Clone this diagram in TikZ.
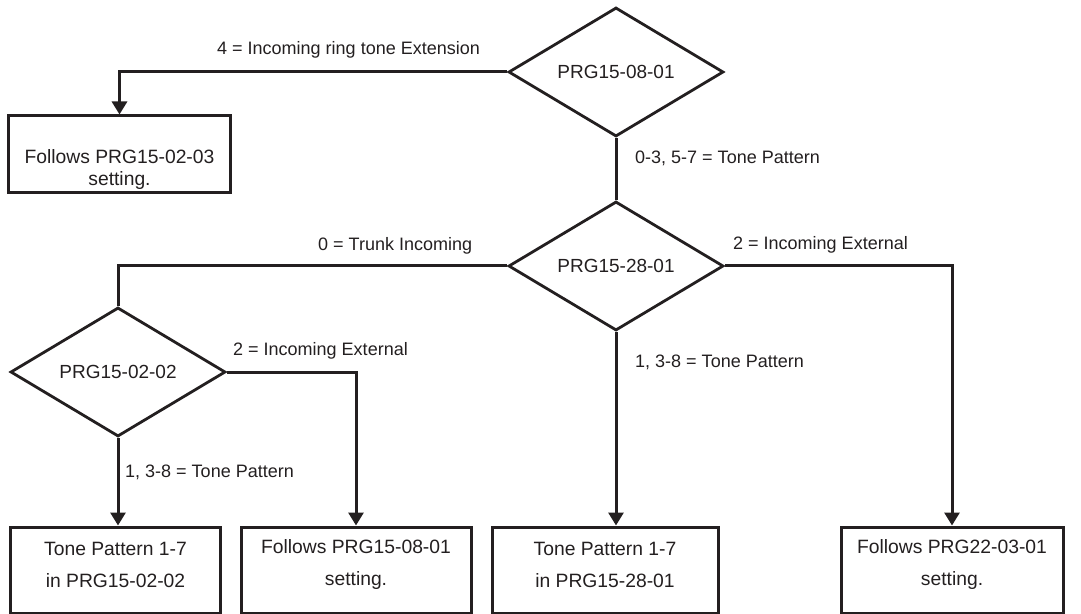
\documentclass[tikz,border=0pt]{standalone}
\usepackage{fontspec}
\setmainfont{Liberation Sans}
\usetikzlibrary{shapes.geometric,arrows.meta}
\definecolor{ink}{HTML}{231F20}
\begin{document}
\begin{tikzpicture}[x=1bp,y=-1bp,
  dec/.style={draw=ink, line width=2.8bp, diamond, aspect=1.66, inner sep=0pt,
    minimum width=215bp, minimum height=129bp,
    font=\fontsize{19bp}{22bp}\selectfont, text=ink},
  box/.style={draw=ink, line width=3bp, rectangle, inner sep=0pt},
  boxtext/.style={align=center, inner sep=0pt, text=ink},
  lab/.style={anchor=base west, inner sep=0pt, font=\fontsize{18bp}{20bp}\selectfont, text=ink},
  conn/.style={draw=ink, line width=3bp},
  arr/.style={conn, -{Triangle[width=15bp,length=13bp]}}
]
\useasboundingbox (0,0) rectangle (1081,614);

% decisions
\node[dec] (d1) at (616,72) {PRG15-08-01};
\node[dec] (d2) at (616,266) {PRG15-28-01};
\node[dec] (d3) at (118,372) {PRG15-02-02};

% boxes
\node[box, minimum width=221bp, minimum height=77bp] (b1) at (119.5,154.5) {};
\node[box, minimum width=209bp, minimum height=86bp] (bA) at (115.5,570) {};
\node[box, minimum width=230bp, minimum height=86bp] (bB) at (356,570) {};
\node[box, minimum width=226bp, minimum height=86bp] (bC) at (605,570) {};
\node[box, minimum width=222bp, minimum height=86bp] (bD) at (952,570) {};

% box texts
\node[boxtext, font=\fontsize{19.3bp}{22bp}\selectfont] (t1) at ([yshift=-15bp]b1.center) {Follows PRG15-02-03\\setting.};
\node[boxtext, font=\fontsize{19.3bp}{32bp}\selectfont] (tA) at ([yshift=5bp]bA.center) {Tone Pattern 1-7\\in PRG15-02-02};
\node[boxtext, font=\fontsize{19.3bp}{32bp}\selectfont] (tB) at ([yshift=5bp]bB.center) {Follows PRG15-08-01\\setting.};
\node[boxtext, font=\fontsize{19.3bp}{32bp}\selectfont] (tC) at ([yshift=5bp]bC.center) {Tone Pattern 1-7\\in PRG15-28-01};
\node[boxtext, font=\fontsize{19.3bp}{32bp}\selectfont] (tD) at ([yshift=5bp]bD.center) {Follows PRG22-03-01\\setting.};

% connectors
\draw[arr] (d1.west) -| (b1.north);
\draw[conn] (d1.south) -- (d2.north);
\draw[conn] (d2.west) -| (d3.north);
\draw[arr] (d2.east) -| (bD.north);
\draw[arr] (d2.south) -- (d2.south |- bC.north);
\draw[arr] (d3.south) -- (d3.south |- bA.north);
\draw[arr] (d3.east) -| (bB.north);

% labels
\node[lab] (l1) at (217,55) {4 = Incoming ring tone Extension};
\node[lab] (l2) at (635,164) {0-3, 5-7 = Tone Pattern};
\node[lab] (l3) at (318,251) {0 = Trunk Incoming};
\node[lab] (l4) at (733,250) {2 = Incoming External};
\node[lab] (l5) at (233,355) {2 = Incoming External};
\node[lab] (l6) at (635,367) {1, 3-8 = Tone Pattern};
\node[lab] (l7) at (125,477) {1, 3-8 = Tone Pattern};
\end{tikzpicture}
\end{document}
